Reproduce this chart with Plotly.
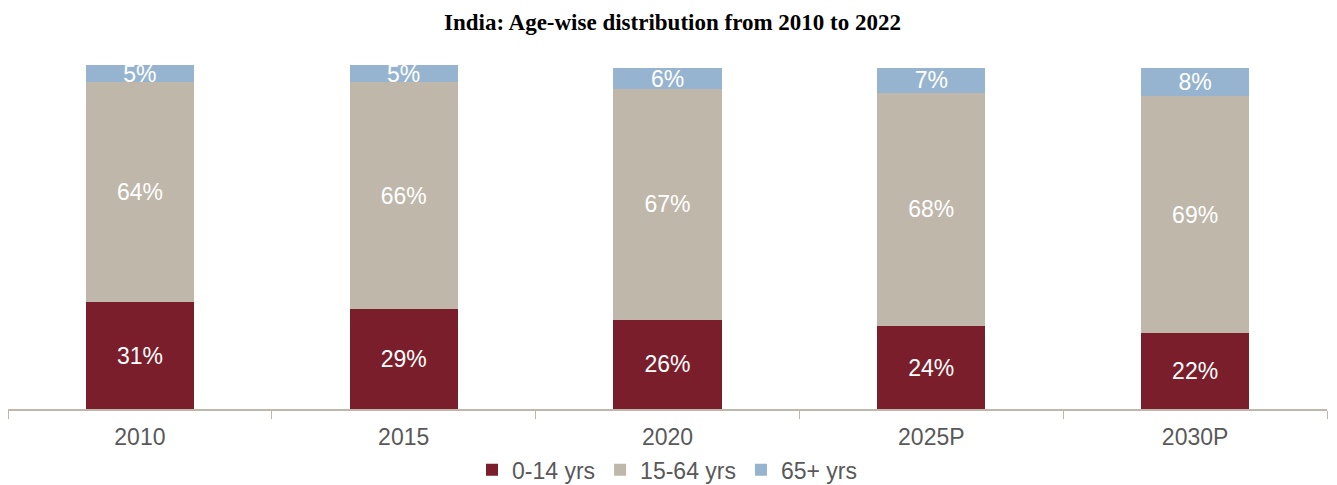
import plotly.graph_objects as go

categories = ["2010", "2015", "2020", "2025P", "2030P"]
age_0_14 = [31, 29, 26, 24, 22]
age_15_64 = [64, 66, 67, 68, 69]
age_65_plus = [5, 5, 6, 7, 8]
series_names = ["0-14 yrs", "15-64 yrs", "65+ yrs"]
colors = ["#7B1E2B", "#BFB7AA", "#96B4CF"]

fig = go.Figure()
for name, vals, col in zip(series_names, [age_0_14, age_15_64, age_65_plus], colors):
    fig.add_trace(go.Bar(
        x=categories, y=vals, name=name,
        marker=dict(color=col, line=dict(width=0)),
        text=[f"{v}%" for v in vals],
        textposition="inside", insidetextanchor="middle",
        textfont=dict(color="white", size=23, family="Liberation Sans, Arial"),
        cliponaxis=False,
    ))

fig.update_layout(
    barmode="stack",
    bargap=0.59,
    width=1329, height=477,
    paper_bgcolor="white", plot_bgcolor="white",
    margin=dict(l=0, r=10, t=57, b=76, autoexpand=False),
    title=dict(text="<b>India: Age-wise distribution from 2010 to 2022</b>",
               x=0.5, xanchor="center", y=0.971, yanchor="middle",
               font=dict(family="Liberation Serif, Times New Roman", size=23, color="black")),
    uniformtext=dict(minsize=23, mode="show"),
    legend=dict(orientation="h", x=0.5, xanchor="center", y=-0.177, yanchor="middle",
                font=dict(family="Liberation Sans, Arial", size=23, color="#595959"),
                itemwidth=30, traceorder="normal"),
    font=dict(family="Liberation Sans, Arial", color="#595959"),
)
fig.update_xaxes(showline=True, linecolor="#BFB7AA", linewidth=2,
                 ticks="outside", tickson="boundaries", ticklen=8, tickcolor="#BFB7AA",
                 ticklabelstandoff=6,
                 tickfont=dict(size=23, color="#595959"), showgrid=False)
fig.update_yaxes(range=[0, 100], visible=False, showgrid=False)

fig.write_html("out.html")
